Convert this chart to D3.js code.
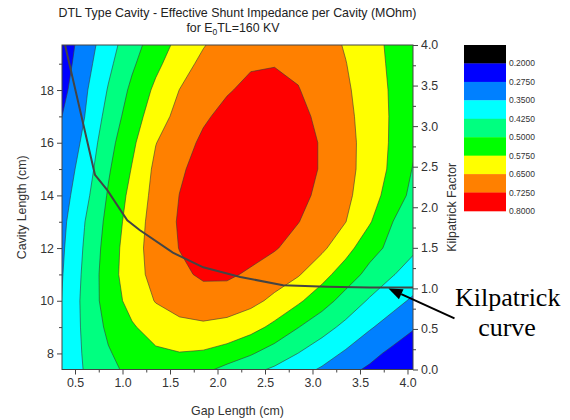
<!DOCTYPE html>
<html><head><meta charset="utf-8">
<script src="https://cdn.jsdelivr.net/npm/d3@7"></script>
<style>
html,body{margin:0;padding:0;background:#fff;}
svg{display:block;font-family:"Liberation Sans",Arial,sans-serif;}
</style></head><body>
<svg id="chart" width="570" height="420"></svg>
<script>
// ---- data ----
const gapLength = [0.35,0.60,0.85,1.10,1.35,1.60,1.85,2.10,2.35,2.60,2.85,3.10,3.35,3.60,3.85,4.10];
const cavityLength = [20,19,18,17,16,15,14,13,12,11,10,9,8,7];
const shuntImpedance = [
  [0.222,0.305,0.388,0.464,0.529,0.588,0.636,0.677,0.702,0.710,0.702,0.679,0.640,0.596,0.560,0.532],
  [0.233,0.320,0.408,0.488,0.558,0.618,0.668,0.700,0.718,0.722,0.712,0.689,0.652,0.605,0.561,0.530],
  [0.248,0.337,0.430,0.516,0.590,0.651,0.685,0.719,0.741,0.744,0.728,0.695,0.661,0.614,0.564,0.525],
  [0.271,0.349,0.451,0.538,0.616,0.673,0.715,0.745,0.759,0.758,0.742,0.710,0.668,0.619,0.565,0.518],
  [0.286,0.365,0.474,0.560,0.648,0.695,0.738,0.763,0.775,0.771,0.753,0.719,0.673,0.622,0.563,0.502],
  [0.300,0.383,0.491,0.579,0.666,0.715,0.751,0.773,0.780,0.774,0.753,0.719,0.673,0.620,0.558,0.484],
  [0.313,0.402,0.507,0.598,0.673,0.726,0.758,0.776,0.780,0.770,0.746,0.707,0.666,0.610,0.537,0.470],
  [0.326,0.423,0.521,0.611,0.680,0.732,0.760,0.774,0.773,0.757,0.727,0.689,0.651,0.582,0.499,0.452],
  [0.334,0.432,0.532,0.621,0.681,0.727,0.751,0.760,0.753,0.731,0.697,0.663,0.602,0.527,0.479,0.430],
  [0.341,0.439,0.539,0.621,0.673,0.709,0.737,0.737,0.714,0.685,0.656,0.601,0.537,0.479,0.428,0.388],
  [0.347,0.444,0.534,0.602,0.654,0.680,0.691,0.688,0.670,0.634,0.587,0.531,0.472,0.417,0.374,0.332],
  [0.357,0.439,0.515,0.567,0.608,0.631,0.638,0.628,0.602,0.557,0.502,0.454,0.406,0.358,0.316,0.276],
  [0.371,0.432,0.493,0.536,0.562,0.572,0.566,0.544,0.507,0.465,0.424,0.382,0.340,0.296,0.257,0.224],
  [0.386,0.426,0.466,0.515,0.539,0.528,0.481,0.436,0.409,0.382,0.349,0.316,0.275,0.244,0.221,0.202]
];
const levels = [0.2000,0.2750,0.3500,0.4250,0.5000,0.5750,0.6500,0.7250,0.8000];
const levelColors = ["#000000","#0000ff","#0080ff","#00ffff","#00ff80","#00ff00","#ffff00","#ff8000","#ff0000"];
const kilpatrickGap =    [0.395,0.71,0.84,1.05,1.18,1.53,1.85,2.24,2.69,3.15,3.60,4.06];
const kilpatrickFactor = [4.00, 2.40,2.21,1.84,1.72,1.44,1.26,1.14,1.04,1.02,1.01,1.01];
const gapTicks = [0.5,1.0,1.5,2.0,2.5,3.0,3.5,4.0];
const gapMinor = [0.75,1.25,1.75,2.25,2.75,3.25,3.75];
const cavityTicks = [8,10,12,14,16,18];
const cavityMinor = [9,11,13,15,17,19];
const factorTicks = [0,0.5,1.0,1.5,2.0,2.5,3.0,3.5,4.0];
const factorMinor = [0.25,0.75,1.25,1.75,2.25,2.75,3.25,3.75];

// ---- layout ----
const L = 62, R = 413, T = 45, B = 369.5;
const svg = d3.select("#chart");
const x = d3.scaleLinear().domain([0.363, 4.058]).range([L, R]);
const y = d3.scaleLinear().domain([7.39, 19.71]).range([B, T]);
const k = d3.scaleLinear().domain([0, 4]).range([B, T]);
const txt = "#333";

svg.append("defs").append("clipPath").attr("id","plotclip")
  .append("rect").attr("x",L).attr("y",T).attr("width",R-L).attr("height",B-T);

// ---- contours ----
const nx = gapLength.length, ny = cavityLength.length;
const dg = gapLength[1]-gapLength[0], dL = cavityLength[0]-cavityLength[1];
const proj = d3.geoTransform({point(px, py){
  this.stream.point(x(gapLength[0] + (px-0.5)*dg), y(cavityLength[0] - (py-0.5)*dL));
}});
const path = d3.geoPath(proj);
const contours = d3.contours().size([nx, ny]).thresholds(levels.slice(0,8))(shuntImpedance.flat());

const plot = svg.append("g").attr("clip-path","url(#plotclip)");
plot.append("rect").attr("x",L).attr("y",T).attr("width",R-L).attr("height",B-T).attr("fill",levelColors[0]);
plot.selectAll("path.fill").data(contours).join("path").attr("class","fill")
  .attr("d", path).attr("fill", (d,i)=>levelColors[i+1]).attr("stroke","none");
plot.selectAll("path.line").data(contours.slice(1)).join("path").attr("class","line")
  .attr("d", path).attr("fill","none").attr("stroke","#3a3a3a").attr("stroke-width",0.7).attr("stroke-opacity",0.85);

// Kilpatrick curve
plot.append("path").datum(kilpatrickGap.map((g,i)=>[g,kilpatrickFactor[i]]))
  .attr("d", d3.line().x(d=>x(d[0])).y(d=>k(d[1])))
  .attr("fill","none").attr("stroke","#444").attr("stroke-width",2);

// frame
svg.append("rect").attr("x",L).attr("y",T).attr("width",R-L).attr("height",B-T)
  .attr("fill","none").attr("stroke","#444").attr("stroke-width",1);

// ---- axes ----
function styleAxis(g){
  g.select(".domain").remove();
  g.selectAll(".tick line").attr("stroke","#444");
  g.selectAll(".tick text").attr("fill",txt).style("font-size","12.4px").style("font-family",'"Liberation Sans",Arial,sans-serif');
}
svg.append("g").attr("transform",`translate(${L},0)`)
  .call(d3.axisLeft(y).tickValues(cavityTicks).tickSize(5).tickPadding(3).tickFormat(d3.format("d"))).call(styleAxis);
svg.append("g").attr("transform",`translate(${L},0)`)
  .call(d3.axisLeft(y).tickValues(cavityMinor).tickSize(3).tickFormat("")).call(styleAxis);
svg.append("g").attr("transform",`translate(0,${B})`)
  .call(d3.axisBottom(x).tickValues(gapTicks).tickSize(5).tickPadding(4).tickFormat(d3.format(".1f"))).call(styleAxis);
svg.append("g").attr("transform",`translate(0,${B})`)
  .call(d3.axisBottom(x).tickValues(gapMinor).tickSize(3).tickFormat("")).call(styleAxis);
svg.append("g").attr("transform",`translate(${R},0)`)
  .call(d3.axisRight(k).tickValues(factorTicks).tickSize(5).tickPadding(3).tickFormat(d3.format(".1f"))).call(styleAxis);
svg.append("g").attr("transform",`translate(${R},0)`)
  .call(d3.axisRight(k).tickValues(factorMinor).tickSize(3).tickFormat("")).call(styleAxis);

// axis titles
svg.append("text").attr("x",(L+R)/2).attr("y",415).attr("text-anchor","middle")
  .attr("fill",txt).style("font-size","12.4px").text("Gap Length (cm)");
svg.append("text").attr("transform",`translate(26,${(T+B)/2}) rotate(-90)`).attr("text-anchor","middle")
  .attr("fill",txt).style("font-size","12.4px").text("Cavity Length (cm)");
svg.append("text").attr("transform",`translate(456,${(T+B)/2}) rotate(-90)`).attr("text-anchor","middle")
  .attr("fill",txt).style("font-size","12.4px").text("Kilpatrick Factor");

// title
svg.append("text").attr("x",237.5).attr("y",17).attr("text-anchor","middle")
  .attr("fill","#222").style("font-size","12.4px")
  .text("DTL Type Cavity - Effective Shunt Impedance per Cavity (MOhm)");
const t2 = svg.append("text").attr("x",233).attr("y",32).attr("text-anchor","middle")
  .attr("fill","#222").style("font-size","12.4px");
t2.append("tspan").text("for E");
t2.append("tspan").attr("dy",3).style("font-size","8.5px").text("0");
t2.append("tspan").attr("dy",-3).text("TL=160 KV");

// ---- legend (color bar) ----
const lgX = 464, lgY = 45, lgW = 42, lgH = 166/9;
const lg = svg.append("g");
lg.selectAll("rect").data(levelColors).join("rect")
  .attr("x",lgX).attr("y",(d,i)=>lgY+i*lgH).attr("width",lgW).attr("height",lgH+0.3).attr("fill",d=>d);
lg.selectAll("text").data(levels).join("text")
  .attr("x",lgX+lgW+3).attr("y",(d,i)=>lgY+(i+1)*lgH).attr("dy","0.35em")
  .attr("fill",txt).style("font-size","8.5px").text(d=>d3.format(".4f")(d));

// ---- annotation ----
const tip = [x(3.8), k(1.0)];
const tail = [tip[0]+66, tip[1]+30];
const ang = Math.atan2(tip[1]-tail[1], tip[0]-tail[0]);
const hl = 14, hw = 5.5;
const base = [tip[0]-hl*Math.cos(ang), tip[1]-hl*Math.sin(ang)];
svg.append("line").attr("x1",tail[0]).attr("y1",tail[1]).attr("x2",base[0]).attr("y2",base[1])
  .attr("stroke","#000").attr("stroke-width",2);
svg.append("path").attr("d", d3.line()([
  tip,
  [base[0]+hw*Math.sin(ang), base[1]-hw*Math.cos(ang)],
  [base[0]-hw*Math.sin(ang), base[1]+hw*Math.cos(ang)]
]) + "Z").attr("fill","#000");
svg.append("text").attr("x",455).attr("y",306).attr("fill","#000")
  .style("font-family",'"Liberation Serif","Times New Roman",serif').style("font-size","26px").text("Kilpatrick");
svg.append("text").attr("x",507).attr("y",336).attr("text-anchor","middle").attr("fill","#000")
  .style("font-family",'"Liberation Serif","Times New Roman",serif').style("font-size","26px").text("curve");
</script>
</body></html>
